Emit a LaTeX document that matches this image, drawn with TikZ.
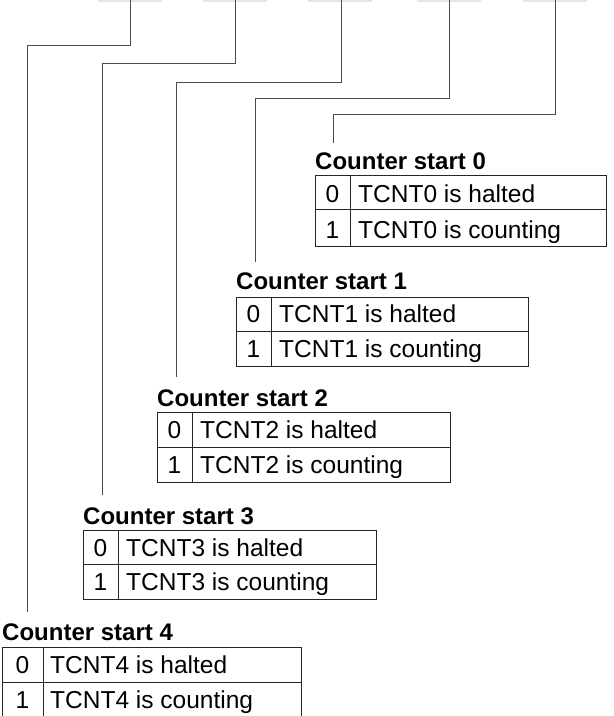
\documentclass[tikz,border=0pt]{standalone}
\usepackage{fontspec}
\setmainfont{Liberation Sans}
\tikzset{
	tbl/.style={line width=1pt, draw=black!85},
	wire/.style={line width=1pt, draw=black!70},
	fieldcut/.style={line width=1.5pt, draw=black!10},
	title/.style={anchor=base west, inner sep=0pt, font=\bfseries\fontsize{24}{28}\selectfont},
	bit/.style={anchor=base, inner sep=0pt, font=\fontsize{24.5}{28}\selectfont},
	txt/.style={anchor=base west, inner sep=0pt, font=\fontsize{24.5}{28}\selectfont}
}

\begin{document}
\begin{tikzpicture}[x=1pt, y=-1pt]
	\useasboundingbox (0,0) rectangle (614,716);
	% lower edges of the register fields, cut off at the top
	\coordinate (field4) at (130, 0);
	\coordinate (field3) at (235, 0);
	\coordinate (field2) at (341, 0);
	\coordinate (field1) at (449, 0);
	\coordinate (field0) at (555, 0);
	\draw[fieldcut] (98, 0.75) -- (162, 0.75);
	\draw[fieldcut] (203, 0.75) -- (267, 0.75);
	\draw[fieldcut] (308, 0.75) -- (372, 0.75);
	\draw[fieldcut] (417, 0.75) -- (481, 0.75);
	\draw[fieldcut] (523, 0.75) -- (587, 0.75);
	% ends of the leader lines
	\coordinate (start0) at (333, 143);
	\coordinate (start1) at (255, 262);
	\coordinate (start2) at (176, 377);
	\coordinate (start3) at (102, 495);
	\coordinate (start4) at (27, 612);
	\draw[wire] (field0) -- ++(0, 114) -| (start0);
	\draw[wire] (field1) -- ++(0, 98) -| (start1);
	\draw[wire] (field2) -- ++(0, 82) -| (start2);
	\draw[wire] (field3) -- ++(0, 63) -| (start3);
	\draw[wire] (field4) -- ++(0, 45) -| (start4);
	% counter start 0
	\node[title] (title0) at (315, 169) {Counter start 0};
	\draw[tbl] (315, 175) rectangle (606, 246);
	\draw[tbl] (315, 209.5) -- (606, 209.5);
	\draw[tbl] (350, 175) -- (350, 246);
	\node[bit] (bit00) at (332.5, 202.5) {0};
	\node[txt] (txt00) at (358, 202.5) {TCNT0 is halted};
	\node[bit] (bit01) at (332.5, 238.5) {1};
	\node[txt] (txt01) at (358, 238.5) {TCNT0 is counting};
	% counter start 1
	\node[title] (title1) at (236, 289) {Counter start 1};
	\draw[tbl] (236, 297) rectangle (528, 366);
	\draw[tbl] (236, 331.5) -- (528, 331.5);
	\draw[tbl] (271, 297) -- (271, 366);
	\node[bit] (bit10) at (253.5, 322.5) {0};
	\node[txt] (txt10) at (279, 322.5) {TCNT1 is halted};
	\node[bit] (bit11) at (253.5, 357) {1};
	\node[txt] (txt11) at (279, 357) {TCNT1 is counting};
	% counter start 2
	\node[title] (title2) at (157, 406) {Counter start 2};
	\draw[tbl] (157, 412) rectangle (450, 482);
	\draw[tbl] (157, 447) -- (450, 447);
	\draw[tbl] (192, 412) -- (192, 482);
	\node[bit] (bit20) at (174.5, 438) {0};
	\node[txt] (txt20) at (200, 438) {TCNT2 is halted};
	\node[bit] (bit21) at (174.5, 473) {1};
	\node[txt] (txt21) at (200, 473) {TCNT2 is counting};
	% counter start 3
	\node[title] (title3) at (83, 524) {Counter start 3};
	\draw[tbl] (83, 530) rectangle (376, 599);
	\draw[tbl] (83, 564.5) -- (376, 564.5);
	\draw[tbl] (118, 530) -- (118, 599);
	\node[bit] (bit30) at (100.5, 556) {0};
	\node[txt] (txt30) at (126, 556) {TCNT3 is halted};
	\node[bit] (bit31) at (100.5, 590) {1};
	\node[txt] (txt31) at (126, 590) {TCNT3 is counting};
	% counter start 4 (runs off the bottom)
	\node[title] (title4) at (2, 640) {Counter start 4};
	\draw[tbl] (2, 720) -- (2, 647) -- (301, 647) -- (301, 720);
	\draw[tbl] (2, 682) -- (301, 682);
	\draw[tbl] (43, 647) -- (43, 720);
	\node[bit] (bit40) at (22.5, 673) {0};
	\node[txt] (txt40) at (50, 673) {TCNT4 is halted};
	\node[bit] (bit41) at (22.5, 708) {1};
	\node[txt] (txt41) at (50, 708) {TCNT4 is counting};
\end{tikzpicture}
\end{document}
